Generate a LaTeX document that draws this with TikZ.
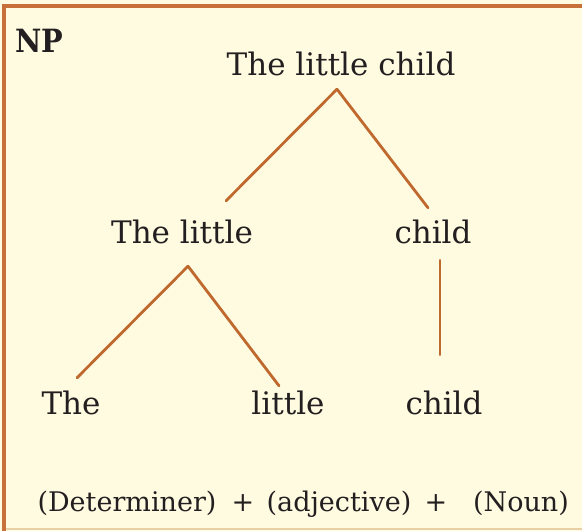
\documentclass[tikz,border=0pt]{standalone}
\usepackage{fontspec}
\setmainfont{DejaVu Serif}
\newfontfamily\labelfont{DejaVu Serif Condensed}
\definecolor{boxfill}{HTML}{FEFBE1}
\definecolor{boxline}{HTML}{C8703A}
\definecolor{boxfoot}{HTML}{E9CFA6}
\definecolor{treeline}{HTML}{C0692E}
\definecolor{ink}{HTML}{231F20}
\tikzset{
  word/.style={anchor=base, inner sep=0pt, text height=23pt, text depth=0pt,
    text=ink, font=\fontsize{31}{36}\selectfont},
  part/.style={anchor=base, inner sep=0pt, text=ink,
    font=\fontsize{27}{32}\selectfont},
  branch/.style={draw=treeline, line width=2.8pt, line cap=round}
}
\begin{document}
\begin{tikzpicture}[x=1pt, y=-1pt]
    \useasboundingbox (0,0) rectangle (582,531);
    % the box
    \fill[boxfill] (0,0) rectangle (582,531);
    \draw[boxfoot, line width=2pt] (4,529) -- (590,529);
    \draw[boxline, line width=3.5pt] (4,531) -- (4,6) -- (590,6);
    \node[anchor=base, inner sep=0pt, text=ink, font=\labelfont\bfseries\fontsize{32}{36}\selectfont] (np) at (39,52) {NP};
    % the tree
    \node[word] (top) at (341,75) {The little child};
    \node[word] (tl) at (182,243) {The little};
    \node[word] (ch) at (433,243) {child};
    \node[word] (the) at (71,414) {The};
    \node[word] (lit) at (288,414) {little};
    \node[word] (chd) at (444,414) {child};
    \draw[branch] ([xshift=-4pt,yshift=-14pt]top.south) -- ([xshift=44pt,yshift=19pt]tl.north);
    \draw[branch] ([xshift=-4pt,yshift=-14pt]top.south) -- ([xshift=-5pt,yshift=12pt]ch.north);
    \draw[branch] ([xshift=6pt,yshift=-23pt]tl.south) -- ([xshift=6pt,yshift=13pt]the.north);
    \draw[branch] ([xshift=6pt,yshift=-23pt]tl.south) -- ([xshift=-9pt,yshift=5pt]lit.north);
    \draw[branch] ([xshift=7pt,yshift=-17pt]ch.south) -- ([xshift=-4pt,yshift=36pt]chd.north);
    % the parts
    \node[part] (det) at (127,511) {(Determiner)};
    \node[part] (plusa) at (243,511) {+};
    \node[part] (adj) at (339,511) {(adjective)};
    \node[part] (plusb) at (436,511) {+};
    \node[part] (noun) at (521,511) {(Noun)};
\end{tikzpicture}
\end{document}
